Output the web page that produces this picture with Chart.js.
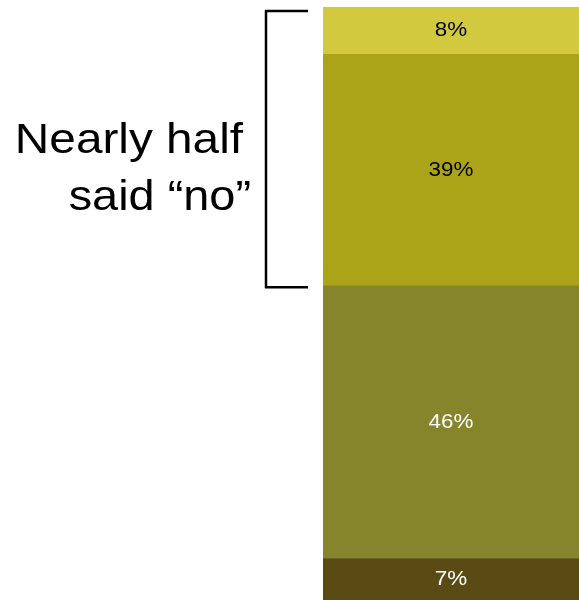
<!DOCTYPE html>
<html>
<head>
<meta charset="utf-8">
<script src="https://cdn.jsdelivr.net/npm/chart.js@4"></script>
<style>
  body { margin: 0; background: #fff; }
  #wrap { width: 579px; height: 600px; position: relative; }
</style>
</head>
<body>
<div id="wrap"><canvas id="myChart"></canvas></div>
<script>
// bottom to top
const categories = ["Answer"];
const segmentLabels = ["7%", "46%", "39%", "8%"];
const segmentValues = [7, 46, 39, 8];
const segmentColors = ["#5a4b15", "#87852c", "#aba318", "#d2c93f"];
const labelColors = ["#ffffff", "#ffffff", "#000000", "#000000"];
const bracketText = ["Nearly half", "said \u201cno\u201d"];

// text in the original is a bit wider than the font, so stretch it
const stretch = 1.12;

// draws the percentages inside each segment
const segmentText = {
  id: "segmentText",
  afterDatasetsDraw(chart) {
    const ctx = chart.ctx;
    ctx.save();
    ctx.font = "20px 'Liberation Sans', Arial, sans-serif";
    ctx.textAlign = "center";
    ctx.textBaseline = "middle";
    chart.data.datasets.forEach((ds, i) => {
      const bar = chart.getDatasetMeta(i).data[0];
      ctx.save();
      ctx.translate(bar.x, (bar.y + bar.base) / 2);
      ctx.scale(stretch, 1);
      ctx.fillStyle = labelColors[i];
      ctx.fillText(segmentLabels[i], 0, 0);
      ctx.restore();
    });
    ctx.restore();
  },
};

// bracket around the two top segments, plus the note
const bracket = {
  id: "bracket",
  afterDraw(chart) {
    const ctx = chart.ctx;
    const y = chart.scales.y;
    const left = chart.getDatasetMeta(0).data[0];
    const barLeft = left.x - left.width / 2;
    const top = y.getPixelForValue(100) + 4;
    const bottom = y.getPixelForValue(segmentValues[0] + segmentValues[1]) + 1.5;
    const xLine = barLeft - 57;
    ctx.save();
    ctx.strokeStyle = "#000";
    ctx.lineWidth = 2.5;
    ctx.beginPath();
    ctx.moveTo(barLeft - 15, top);
    ctx.lineTo(xLine, top);
    ctx.lineTo(xLine, bottom);
    ctx.lineTo(barLeft - 15, bottom);
    ctx.stroke();

    ctx.fillStyle = "#000";
    ctx.font = "43px 'Liberation Sans', Arial, sans-serif";
    ctx.textAlign = "right";
    ctx.textBaseline = "alphabetic";
    ctx.save();
    ctx.translate(xLine - 23, 0);
    ctx.scale(1.11, 1);
    ctx.fillText(bracketText[0], 0, 153);
    ctx.restore();
    ctx.translate(xLine - 15, 0);
    ctx.scale(1.09, 1);
    ctx.fillText(bracketText[1], 0, 210);
    ctx.restore();
  },
};

const ctx = document.getElementById("myChart");
const myChart = new Chart(ctx, {
  type: "bar",
  data: {
    labels: categories,
    datasets: segmentValues.map((v, i) => ({
      label: segmentLabels[i],
      data: [v],
      backgroundColor: segmentColors[i],
      borderWidth: 0,
      barPercentage: 1,
      categoryPercentage: 1,
    })),
  },
  options: {
    responsive: true,
    maintainAspectRatio: false,
    animation: false,
    layout: { padding: { left: 323, top: 7, right: 0, bottom: 0 } },
    plugins: {
      legend: { display: false },
      tooltip: { enabled: false },
    },
    scales: {
      x: { stacked: true, display: false },
      y: { stacked: true, display: false, min: 0, max: 100 },
    },
  },
  plugins: [segmentText, bracket],
});
</script>
</body>
</html>
